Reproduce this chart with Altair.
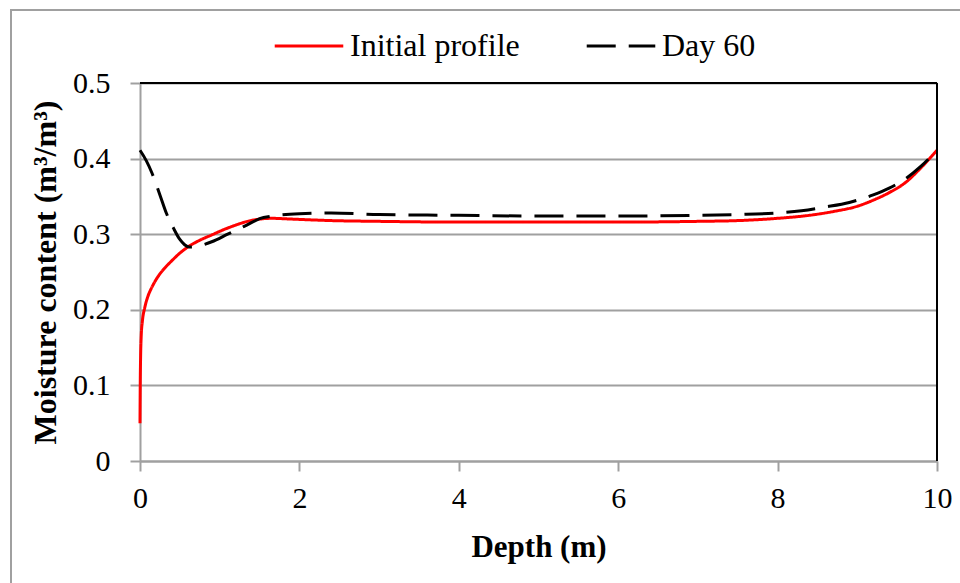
import altair as alt
import pandas as pd

# Soil moisture profiles along depth
init_depth = [0, 0.003, 0.008, 0.015, 0.03, 0.06, 0.1, 0.15, 0.22, 0.3, 0.4, 0.5,
              0.6, 0.75, 0.9, 1.05, 1.2, 1.35, 1.5, 1.65, 1.9, 2.4, 3, 4, 5, 6, 7,
              7.5, 8, 8.4, 8.7, 9.0, 9.2, 9.4, 9.6, 9.8, 10]
init_theta = [0.05, 0.10, 0.14, 0.165, 0.185, 0.203, 0.218, 0.230, 0.243, 0.254,
              0.265, 0.275, 0.283, 0.292, 0.299, 0.306, 0.312, 0.317, 0.320, 0.321,
              0.320, 0.318, 0.317, 0.316, 0.316, 0.316, 0.317, 0.318, 0.321, 0.325,
              0.330, 0.337, 0.345, 0.355, 0.368, 0.388, 0.411]

day60_depth = [0, 0.08, 0.15, 0.25, 0.33, 0.42, 0.5, 0.56, 0.62, 0.72, 0.9, 1.1,
               1.3, 1.55, 2.0, 2.4, 3, 4, 5, 6, 7, 7.5, 8, 8.3, 8.6, 8.9, 9.2,
               9.4, 9.6, 9.8, 10]
day60_theta = [0.411, 0.397, 0.381, 0.352, 0.328, 0.308, 0.293, 0.286, 0.283,
               0.284, 0.290, 0.300, 0.310, 0.322, 0.327, 0.328, 0.326, 0.325,
               0.324, 0.324, 0.325, 0.326, 0.328, 0.331, 0.336, 0.342, 0.352,
               0.361, 0.373, 0.390, 0.411]

series_names = ["Initial profile", "Day 60"]
series_colors = ["#ff0000", "#000000"]
series_dashes = [[1, 0], [29, 13]]

df = pd.concat([
    pd.DataFrame({"depth": init_depth, "theta": init_theta, "series": series_names[0]}),
    pd.DataFrame({"depth": day60_depth, "theta": day60_theta, "series": series_names[1]}),
])

FONT = "Liberation Serif"
GRAY = "#a0a0a0"

x_enc = alt.X("depth:Q", scale=alt.Scale(domain=[0, 10], nice=False),
              axis=alt.Axis(values=[0, 2, 4, 6, 8, 10], format="~g", title="Depth (m)",
                            grid=False, titleY=95, titleBaseline="alphabetic",
                            labelPadding=12, labelFlush=False))
y_enc = alt.Y("theta:Q", scale=alt.Scale(domain=[0, 0.5], nice=False),
              axis=alt.Axis(values=[0, 0.1, 0.2, 0.3, 0.4, 0.5], format="~g",
                            title="Moisture content (m³/m³)", grid=True,
                            titleX=-85, titleBaseline="alphabetic", titleAngle=-90,
                            titleFontSize=32, labelPadding=20, labelFlush=False))
color_enc = alt.Color("series:N",
                      scale=alt.Scale(domain=series_names, range=series_colors),
                      legend=alt.Legend(title=None, orient="none", direction="horizontal",
                                        legendX=133, legendY=-73, symbolType="stroke",
                                        symbolSize=4700, symbolStrokeWidth=3,
                                        labelFont=FONT, labelFontSize=32, labelColor="black",
                                        labelLimit=400, labelOffset=5, columnPadding=60,
                                        padding=0))
dash_enc = alt.StrokeDash("series:N",
                          scale=alt.Scale(domain=series_names, range=series_dashes),
                          legend=None)

base = alt.Chart(df).encode(x=x_enc, y=y_enc, color=color_enc, strokeDash=dash_enc)

red_line = base.transform_filter(alt.datum.series == series_names[0]).mark_line(
    strokeWidth=3, interpolate="monotone")
black_line = base.transform_filter(alt.datum.series == series_names[1]).mark_line(
    strokeWidth=3, interpolate="monotone")

# plot-area border on top and right
border = alt.Chart(alt.Data(values=[{}]))
top_border = border.mark_rule(color="black", strokeWidth=2).encode(
    y=alt.datum(0.5, type="quantitative"), x=alt.datum(0, type="quantitative"),
    x2=alt.datum(10))
right_border = border.mark_rule(color="black", strokeWidth=2).encode(
    x=alt.datum(10, type="quantitative"), y=alt.datum(0, type="quantitative"),
    y2=alt.datum(0.5))

# outer frame of the figure
frame_left = border.mark_rule(color=GRAY, strokeWidth=2).encode(
    x=alt.value(-129), y=alt.value(-73), y2=alt.value(520))
frame_top = border.mark_rule(color=GRAY, strokeWidth=2).encode(
    y=alt.value(-73), x=alt.value(-130), x2=alt.value(840))

chart = alt.layer(
    red_line, black_line, top_border, right_border, frame_left, frame_top
).properties(
    width=797, height=378,
    autosize=alt.AutoSizeParams(type="none"),
    padding={"left": 140, "top": 83, "right": 23, "bottom": 122},
).configure_view(
    stroke=None
).configure_axis(
    labelFont=FONT, labelFontSize=30, labelColor="black",
    titleFont=FONT, titleFontSize=31, titleFontWeight="bold", titleColor="black",
    domainColor=GRAY, domainWidth=2, tickColor=GRAY, tickWidth=2, tickSize=10,
    gridColor=GRAY, gridWidth=2,
)

chart.save("out.html", embed_options={"renderer": "svg", "actions": False})
